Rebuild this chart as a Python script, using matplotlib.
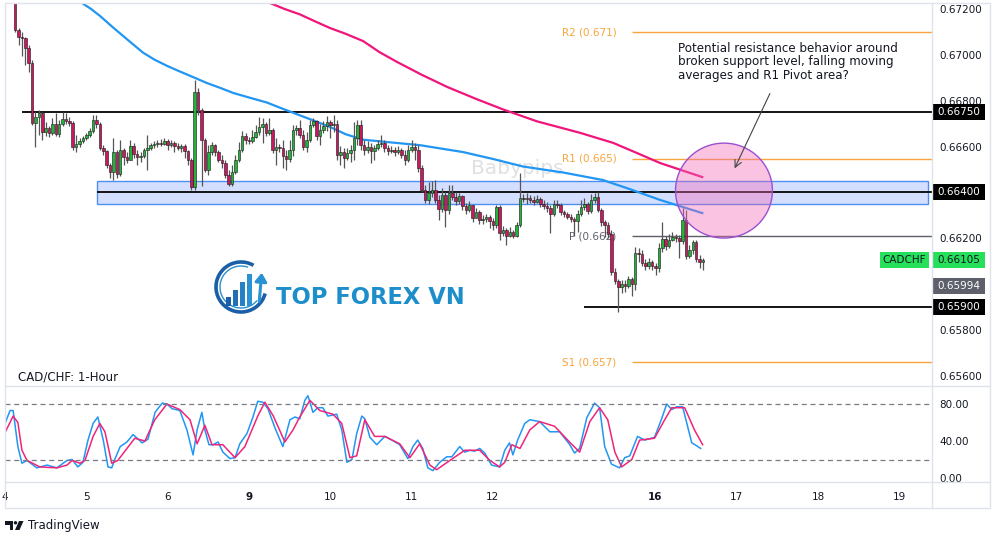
import numpy as np
import matplotlib.pyplot as plt
from matplotlib.patches import Rectangle, Ellipse, Arc, Polygon
from matplotlib.transforms import blended_transform_factory

plt.rcParams['font.family'] = 'DejaVu Sans'

# CAD/CHF 1-hour candles, first candle at hour 3 of the 4th
first_open = 0.67228
closes = [
    0.67108, 0.67077, 0.67073, 0.67030, 0.66964, 0.66703, 0.66728, 0.66746, 0.66663, 0.66681,
    0.66659, 0.66699, 0.66655, 0.66699, 0.66720, 0.66711, 0.66703, 0.66598, 0.66611, 0.66624,
    0.66637, 0.66650, 0.66668, 0.66716, 0.66699, 0.66594, 0.66581, 0.66519, 0.66489, 0.66576,
    0.66480, 0.66585, 0.66555, 0.66541, 0.66603, 0.66568, 0.66555, 0.66559, 0.66585, 0.66594,
    0.66607, 0.66611, 0.66616, 0.66611, 0.66624, 0.66607, 0.66616, 0.66603, 0.66594, 0.66603,
    0.66581, 0.66541, 0.66424, 0.66838, 0.66759, 0.66629, 0.66498, 0.66576, 0.66607, 0.66576,
    0.66541, 0.66528, 0.66476, 0.66437, 0.66489, 0.66541, 0.66585, 0.66646, 0.66629, 0.66624,
    0.66642, 0.66663, 0.66685, 0.66699, 0.66659, 0.66672, 0.66585, 0.66598, 0.66594, 0.66559,
    0.66546, 0.66585, 0.66672, 0.66681, 0.66650, 0.66598, 0.66629, 0.66694, 0.66711, 0.66646,
    0.66672, 0.66690, 0.66707, 0.66694, 0.66699, 0.66563, 0.66576, 0.66550, 0.66572, 0.66585,
    0.66637, 0.66694, 0.66607, 0.66585, 0.66598, 0.66581, 0.66594, 0.66611, 0.66616, 0.66594,
    0.66581, 0.66585, 0.66576, 0.66585, 0.66563, 0.66541, 0.66585, 0.66598, 0.66585, 0.66506,
    0.66411, 0.66367, 0.66398, 0.66411, 0.66367, 0.66328, 0.66389, 0.66323, 0.66398, 0.66380,
    0.66363, 0.66385, 0.66341, 0.66323, 0.66345, 0.66289, 0.66315, 0.66280, 0.66284, 0.66293,
    0.66276, 0.66258, 0.66337, 0.66223, 0.66236, 0.66210, 0.66228, 0.66210, 0.66258, 0.66376,
    0.66372, 0.66376, 0.66367, 0.66358, 0.66372, 0.66350, 0.66341, 0.66332, 0.66306, 0.66350,
    0.66345, 0.66315, 0.66306, 0.66293, 0.66284, 0.66276, 0.66306, 0.66337, 0.66350, 0.66319,
    0.66367, 0.66380, 0.66323, 0.66271, 0.66258, 0.66219, 0.66053, 0.66014, 0.65988, 0.66001,
    0.65992, 0.66023, 0.66001, 0.66136, 0.66132, 0.66093, 0.66079, 0.66097, 0.66079, 0.66071,
    0.66158, 0.66197, 0.66167, 0.66193, 0.66206, 0.66202, 0.66188, 0.66280, 0.66123, 0.66149,
    0.66184, 0.66110, 0.66097, 0.66105]
highs = [
    0.67235, 0.67117, 0.67099, 0.67077, 0.67043, 0.66977, 0.66750, 0.66759, 0.66750, 0.66707,
    0.66690, 0.66724, 0.66746, 0.66716, 0.66750, 0.66746, 0.66728, 0.66711, 0.66650, 0.66637,
    0.66646, 0.66659, 0.66681, 0.66737, 0.66737, 0.66707, 0.66607, 0.66585, 0.66528, 0.66637,
    0.66585, 0.66629, 0.66594, 0.66576, 0.66629, 0.66616, 0.66585, 0.66576, 0.66594, 0.66650,
    0.66616, 0.66624, 0.66629, 0.66633, 0.66637, 0.66633, 0.66629, 0.66624, 0.66616, 0.66611,
    0.66611, 0.66585, 0.66550, 0.66890, 0.66855, 0.66768, 0.66637, 0.66607, 0.66620, 0.66611,
    0.66585, 0.66563, 0.66541, 0.66498, 0.66519, 0.66563, 0.66620, 0.66668, 0.66659, 0.66642,
    0.66672, 0.66694, 0.66728, 0.66724, 0.66707, 0.66724, 0.66681, 0.66637, 0.66611, 0.66629,
    0.66585, 0.66629, 0.66694, 0.66694, 0.66716, 0.66672, 0.66663, 0.66716, 0.66724, 0.66716,
    0.66699, 0.66711, 0.66733, 0.66716, 0.66737, 0.66716, 0.66603, 0.66594, 0.66594, 0.66607,
    0.66707, 0.66716, 0.66716, 0.66629, 0.66624, 0.66616, 0.66607, 0.66629, 0.66650, 0.66629,
    0.66607, 0.66603, 0.66598, 0.66603, 0.66594, 0.66585, 0.66607, 0.66629, 0.66616, 0.66607,
    0.66519, 0.66432, 0.66445, 0.66450, 0.66454, 0.66389, 0.66419, 0.66402, 0.66432, 0.66432,
    0.66402, 0.66398, 0.66389, 0.66354, 0.66363, 0.66345, 0.66332, 0.66323, 0.66302, 0.66306,
    0.66302, 0.66289, 0.66345, 0.66345, 0.66254, 0.66245, 0.66250, 0.66236, 0.66271, 0.66485,
    0.66393, 0.66398, 0.66389, 0.66385, 0.66389, 0.66380, 0.66367, 0.66358, 0.66345, 0.66367,
    0.66367, 0.66354, 0.66323, 0.66315, 0.66306, 0.66293, 0.66323, 0.66367, 0.66376, 0.66358,
    0.66393, 0.66398, 0.66402, 0.66332, 0.66280, 0.66271, 0.66236, 0.66071, 0.66023, 0.66018,
    0.66018, 0.66036, 0.66032, 0.66162, 0.66158, 0.66149, 0.66110, 0.66114, 0.66105, 0.66092,
    0.66180, 0.66271, 0.66210, 0.66219, 0.66228, 0.66219, 0.66215, 0.66332, 0.66323, 0.66171,
    0.66193, 0.66193, 0.66127, 0.66114]
lows = [
    0.67099, 0.67043, 0.66995, 0.66955, 0.66925, 0.66694, 0.66598, 0.66650, 0.66629, 0.66646,
    0.66642, 0.66650, 0.66646, 0.66642, 0.66690, 0.66699, 0.66690, 0.66585, 0.66576, 0.66598,
    0.66616, 0.66629, 0.66642, 0.66659, 0.66681, 0.66585, 0.66563, 0.66506, 0.66463, 0.66454,
    0.66463, 0.66472, 0.66519, 0.66528, 0.66541, 0.66550, 0.66519, 0.66532, 0.66550, 0.66498,
    0.66585, 0.66594, 0.66598, 0.66603, 0.66607, 0.66585, 0.66598, 0.66576, 0.66585, 0.66576,
    0.66550, 0.66519, 0.66411, 0.66411, 0.66737, 0.66428, 0.66489, 0.66476, 0.66563, 0.66559,
    0.66532, 0.66506, 0.66463, 0.66428, 0.66428, 0.66480, 0.66532, 0.66576, 0.66611, 0.66611,
    0.66616, 0.66637, 0.66650, 0.66616, 0.66646, 0.66650, 0.66572, 0.66519, 0.66576, 0.66506,
    0.66498, 0.66532, 0.66559, 0.66650, 0.66637, 0.66585, 0.66576, 0.66620, 0.66685, 0.66629,
    0.66607, 0.66659, 0.66668, 0.66637, 0.66663, 0.66541, 0.66519, 0.66506, 0.66541, 0.66532,
    0.66541, 0.66607, 0.66585, 0.66563, 0.66572, 0.66528, 0.66541, 0.66585, 0.66598, 0.66576,
    0.66563, 0.66572, 0.66559, 0.66568, 0.66550, 0.66519, 0.66532, 0.66576, 0.66541, 0.66489,
    0.66402, 0.66354, 0.66350, 0.66380, 0.66354, 0.66280, 0.66315, 0.66250, 0.66306, 0.66367,
    0.66345, 0.66350, 0.66323, 0.66306, 0.66315, 0.66271, 0.66289, 0.66263, 0.66263, 0.66271,
    0.66245, 0.66236, 0.66245, 0.66193, 0.66210, 0.66171, 0.66206, 0.66202, 0.66206, 0.66250,
    0.66358, 0.66350, 0.66354, 0.66345, 0.66354, 0.66337, 0.66328, 0.66315, 0.66223, 0.66297,
    0.66332, 0.66302, 0.66293, 0.66284, 0.66271, 0.66210, 0.66228, 0.66297, 0.66323, 0.66306,
    0.66310, 0.66354, 0.66315, 0.66254, 0.66206, 0.66202, 0.66040, 0.66001, 0.65879, 0.65962,
    0.65966, 0.65984, 0.65949, 0.65975, 0.66097, 0.66079, 0.66062, 0.66066, 0.66062, 0.66040,
    0.66053, 0.66140, 0.66149, 0.66158, 0.66188, 0.66184, 0.66114, 0.66175, 0.66110, 0.66114,
    0.66132, 0.66097, 0.66071, 0.66062]

# moving averages (hour, price)
ma_fast_h = [19.2, 22.7, 25.4, 28.0, 32.0, 36.0, 40.7, 44.0, 47.8, 51.5, 55.5, 59.6, 63.5, 67.3,
             72.0, 77.3, 82.1, 89.2, 95.9, 100.5, 105.7, 114.0, 122.5, 135.2, 144.0, 152.9, 164.7,
             176.5, 184.5, 193.4, 205.8]
ma_fast_p = [0.67274, 0.67226, 0.67200, 0.67170, 0.67118, 0.67068, 0.67010, 0.66980, 0.66952,
             0.66928, 0.66903, 0.66877, 0.66856, 0.66834, 0.66814, 0.66792, 0.66764, 0.66724,
             0.66686, 0.66654, 0.66630, 0.66618, 0.66606, 0.66576, 0.66546, 0.66513, 0.66487,
             0.66454, 0.66414, 0.66367, 0.66310]
ma_slow_h = [73.8, 78.2, 82.5, 87.1, 91.5, 95.9, 100.5, 105.7, 110.5, 115.7, 123.0, 130.5, 139.0,
             147.0, 157.0, 169.7, 179.5, 186.5, 193.4, 205.8]
ma_slow_p = [0.67261, 0.67226, 0.67200, 0.67176, 0.67146, 0.67117, 0.67092, 0.67060, 0.67012,
             0.66969, 0.66913, 0.66860, 0.66808, 0.66762, 0.66710, 0.66660, 0.66616, 0.66572,
             0.66528, 0.66467]

# stochastic %K / %D (hour, value)
k_h = [0, 1.5, 2.4, 3.8, 5, 6.5, 9.4, 12.4, 15.3, 18.3, 19.8, 21.5, 23, 24.5, 26, 27.4, 29, 30.4,
       31.5, 32.5, 34, 36, 37.8, 40.5, 42.2, 44.3, 46.4, 47.8, 49.3, 51.6, 53.7, 55.5, 56.7, 58.1,
       59, 60.2, 61.4, 62.9, 64.3, 66.4, 67.9, 69.3, 71.4, 73.1, 74.6, 76.1, 77.6, 79.7, 82, 84.1,
       85.6, 87, 88.5, 89.4, 90.9, 92.3, 93.8, 95.3, 97.9, 99.4, 100.9, 102.4, 103.8, 105.3, 106.2,
       107.7, 109.7, 112.1, 114.2, 116.5, 118.9, 120.4, 121.8, 123.3, 124.8, 126.3, 128.3, 130.4,
       131.9, 134.2, 135.7, 137.2, 138.6, 140.1, 141.6, 143.6, 146, 147.5, 148.9, 149.9, 151.3,
       153.4, 154.9, 157.8, 160.8, 163.7, 166.7, 168.1, 169.6, 171.7, 174, 175.5, 177, 179, 181.4,
       182.9, 184.4, 186.7, 188.8, 191.7, 193.8, 195.3, 196.8, 198.2, 200, 202.7, 204.1, 205.3]
k_v = [59, 73, 73, 34, 16, 19, 11, 14, 11, 19, 20, 12, 17, 41, 59, 66, 41, 12, 11, 21, 34, 39, 47,
       38, 42, 71, 81, 80, 75, 73, 52, 25, 52, 71, 52, 36, 36, 39, 28, 21, 22, 37, 48, 65, 83, 82,
       75, 54, 34, 63, 66, 64, 84, 89, 71, 76, 76, 67, 69, 52, 17, 20, 48, 67, 64, 44, 36, 45, 41,
       36, 21, 34, 41, 32, 11, 8, 17, 23, 23, 34, 28, 30, 29, 32, 27, 14, 12, 30, 38, 25, 41, 59,
       63, 61, 50, 50, 36, 27, 32, 65, 81, 76, 34, 15, 11, 22, 24, 45, 41, 44, 64, 80, 74, 77, 77,
       38, 35, 32]
d_h = [0, 2.4, 3.8, 5, 6.5, 10.3, 15.3, 18.3, 19.8, 22.1, 23.6, 26, 28, 29.5, 31.5, 33.3, 36,
       38.3, 41.3, 44.2, 47.8, 51.6, 54.6, 56.7, 59, 61.1, 64.3, 67.9, 70.8, 74.6, 76.7, 79.2, 82.6,
       85, 87, 90, 92.9, 96.8, 99.4, 101.8, 103.8, 106.2, 109.1, 112.1, 116.5, 119.5, 122.4, 125.4,
       127.4, 131.3, 135.7, 140.1, 143.1, 146, 147.5, 149.6, 152, 154.9, 157.8, 162.2, 166.6,
       169.6, 172.6, 175.5, 177.9, 180, 182, 185, 187.3, 191.7, 194.7, 196.8, 200.6, 203.5, 205.9]
d_v = [49, 67, 60, 30, 19, 12, 11, 14, 19, 16, 19, 45, 59, 50, 16, 19, 32, 43, 40, 63, 80, 74, 63,
       37, 57, 36, 36, 22, 34, 67, 82, 67, 39, 52, 66, 84, 73, 69, 59, 22, 24, 63, 45, 45, 37, 22,
       37, 14, 9, 19, 30, 30, 19, 12, 17, 36, 32, 52, 61, 56, 39, 28, 61, 76, 63, 28, 12, 20, 41,
       43, 63, 76, 76, 52, 36]

day_hours = [0, 24, 48, 72, 96, 120, 144, 192, 216, 240, 264]
day_labels = ['4', '5', '6', '9', '10', '11', '12', '16', '17', '18', '19']

support_levels = [0.66750, 0.66400, 0.65900]
support_start = [5.0, 27.1, 171.0]
pivot_names = ['R2 (0.671)', 'R1 (0.665)', 'P (0.662)', 'S1 (0.657)']
pivot_levels = [0.67099, 0.66546, 0.66210, 0.65660]
last_price = 0.66105
prev_close = 0.65994

W, H = 1000, 543
XMAX = 273.6
TXT = '#131722'

def frac(x0, y0, x1, y1):
    return [x0 / W, 1 - y1 / H, (x1 - x0) / W, (y1 - y0) / H]

fig = plt.figure(figsize=(10, 5.43), dpi=100)
ax = fig.add_axes(frac(5, 3, 932, 386))
st = fig.add_axes(frac(5, 386, 932, 482))
for a in (ax, st):
    a.set_xlim(0, XMAX)
    for s in a.spines.values():
        s.set_visible(False)
ax.set_ylim(0.65556, 0.67226)
st.set_ylim(-4.3, 99.5)

# candles
o = np.array([first_open] + closes[:-1])
c = np.array(closes)
hrs = np.arange(len(c)) + 3
up = c >= o
body = np.maximum(np.abs(c - o), 0.00002)
ax.vlines(hrs, lows, highs, color='#555555', lw=0.9, zorder=4)
ax.bar(hrs[up], body[up], bottom=o[up], width=0.75, color='#22b33a',
       edgecolor='#1a1a1a', lw=0.4, zorder=5)
ax.bar(hrs[~up], body[~up], bottom=c[~up], width=0.75, color='#c8185f',
       edgecolor='#1a1a1a', lw=0.4, zorder=5)

# support / resistance zone
ax.add_patch(Rectangle((27.1, 0.66350), 272.3 - 27.1, 0.00100, fc='#2962ff', alpha=0.2,
                       ec='none', zorder=1))
ax.add_patch(Rectangle((27.1, 0.66350), 272.3 - 27.1, 0.00100, fill=False, ec='#4d8ff0',
                       lw=1, zorder=1.5))
for lvl, x0 in zip(support_levels, support_start):
    ax.hlines(lvl, x0, XMAX, color='#131313', lw=1.4, zorder=2)

# pivots
for name, lvl in zip(pivot_names, pivot_levels):
    col = '#5d606b' if name.startswith('P') else '#f7a53c'
    ax.hlines(lvl, 185, XMAX, color=col, lw=1, zorder=2)
    ax.text(180.5, lvl, name, ha='right', va='center', color=col, fontsize=7.5, zorder=3)

# moving averages
ax.plot(ma_fast_h, ma_fast_p, color='#2196f3', lw=1.6, zorder=3)
ax.plot(ma_slow_h, ma_slow_p, color='#f0157a', lw=1.6, zorder=3)

# watermark
ax.text(151.3, 0.66506, 'Babypips', fontsize=14.5, color='#e0e0e0', ha='center',
        va='center', zorder=0.5)

# circle + note
ax.add_patch(Ellipse((212.2, 0.66408), 28.6, 0.00414, fc=(0.94, 0.42, 0.71, 0.4),
                     ec='#9c4fd0', lw=1, zorder=6))
ax.text(198.5, 0.67058, 'Potential resistance behavior around\nbroken support level, falling moving\naverages and R1 Pivot area?',
        ha='left', va='top', fontsize=8.6, color=TXT, linespacing=1.05, zorder=7)
ax.annotate('', xy=(215.0, 0.66494), xytext=(226.1, 0.66842),
            arrowprops=dict(arrowstyle='->,head_length=0.5,head_width=0.25',
                            color='#444444', lw=0.8), zorder=7)

# price scale
ax.yaxis.tick_right()
ax.set_yticks(np.arange(0.656, 0.6721, 0.002))
ax.set_yticklabels(['{:.5f}'.format(v) for v in np.arange(0.656, 0.6721, 0.002)])
ax.tick_params(axis='y', length=0, pad=5, labelsize=7.5, labelcolor=TXT)
ax.set_xticks([])

tr = blended_transform_factory(ax.transAxes, ax.transData)
box_h = 0.000698
def price_box(val, fc, tc, x0=1.0, x1=1.0572, label=None):
    ax.add_patch(Rectangle((x0, val - box_h / 2), x1 - x0, box_h, transform=tr, fc=fc,
                           ec='none', clip_on=False, zorder=10))
    ax.text((x0 + x1) / 2, val, label or '{:.5f}'.format(val), transform=tr, ha='center',
            va='center', color=tc, fontsize=7.5, clip_on=False, zorder=11)

for lvl in support_levels:
    price_box(lvl, '#000000', 'white')
price_box(last_price, '#26e05c', TXT)
price_box(last_price, '#26e05c', TXT, x0=0.9439, x1=0.9968, label='CADCHF')
price_box(prev_close, '#5d606b', 'white')

# stochastic pane
st.plot(k_h, k_v, color='#2196f3', lw=1.1)
st.plot(d_h, d_v, color='#f0247a', lw=1.1)
for lvl in (80, 20):
    st.axhline(lvl, color='#787b86', lw=0.9, dashes=(4, 3))
st.yaxis.tick_right()
st.set_yticks([0, 40, 80])
st.set_yticklabels(['0.00', '40.00', '80.00'])
st.tick_params(axis='y', length=0, pad=5, labelsize=7.5, labelcolor=TXT)
st.set_xticks(day_hours)
st.set_xticklabels(day_labels)
st.tick_params(axis='x', length=0, pad=7, labelsize=7.5, labelcolor=TXT)
for lab in st.get_xticklabels():
    if lab.get_text() in ('9', '16'):
        lab.set_fontweight('bold')

# decorations in pixel space
deco = fig.add_axes([0, 0, 1, 1], zorder=20)
deco.set_xlim(0, W)
deco.set_ylim(H, 0)
deco.axis('off')
frame = '#e0e3eb'
deco.add_patch(Rectangle((5, 3), 985, 505, fill=False, ec=frame, lw=1))
deco.plot([932, 932], [3, 508], color=frame, lw=1)
deco.plot([5, 990], [386, 386], color=frame, lw=1)
deco.plot([5, 990], [482, 482], color=frame, lw=1)
deco.text(18, 377, 'CAD/CHF: 1-Hour', fontsize=8.5, color=TXT, va='center')

# TOP FOREX VN logo
deco.add_patch(Arc((241, 287), 50, 50, theta1=15, theta2=300, color='#1b5fa6', lw=2.6))
deco.add_patch(Arc((241, 287), 42, 42, theta1=40, theta2=290, color='#2a8fd0', lw=1))
bar_cols = ['#1b5fa6', '#1f70b5', '#2581c3', '#2a92d2']
for bx, top, bc in zip([228, 235, 242, 249], [297, 290, 282, 274], bar_cols):
    deco.add_patch(Rectangle((bx - 2.5, top), 5, 306 - top, fc=bc, ec='none'))
deco.annotate('', xy=(262, 270), xytext=(259, 304),
              arrowprops=dict(arrowstyle='-|>,head_length=0.5,head_width=0.35',
                              color='#2a92d2', lw=2.2))
deco.text(276, 297, 'TOP FOREX VN', fontsize=16.3, fontweight='bold', color='#1e8ecb',
          va='center', ha='left')

# TradingView footer
deco.add_patch(Polygon([(5, 521), (13, 521), (13, 530), (9.5, 530), (9.5, 524.5), (5, 524.5)],
                       fc=TXT, ec='none'))
deco.add_patch(plt.Circle((15.5, 522.8), 1.7, fc=TXT, ec='none'))
deco.add_patch(Polygon([(19, 521), (23.5, 521), (19.5, 530), (15, 530)], fc=TXT, ec='none'))
deco.text(28, 525.5, 'TradingView', fontsize=8.5, color=TXT, va='center')

fig.savefig('out.png', dpi=100, facecolor='white')
